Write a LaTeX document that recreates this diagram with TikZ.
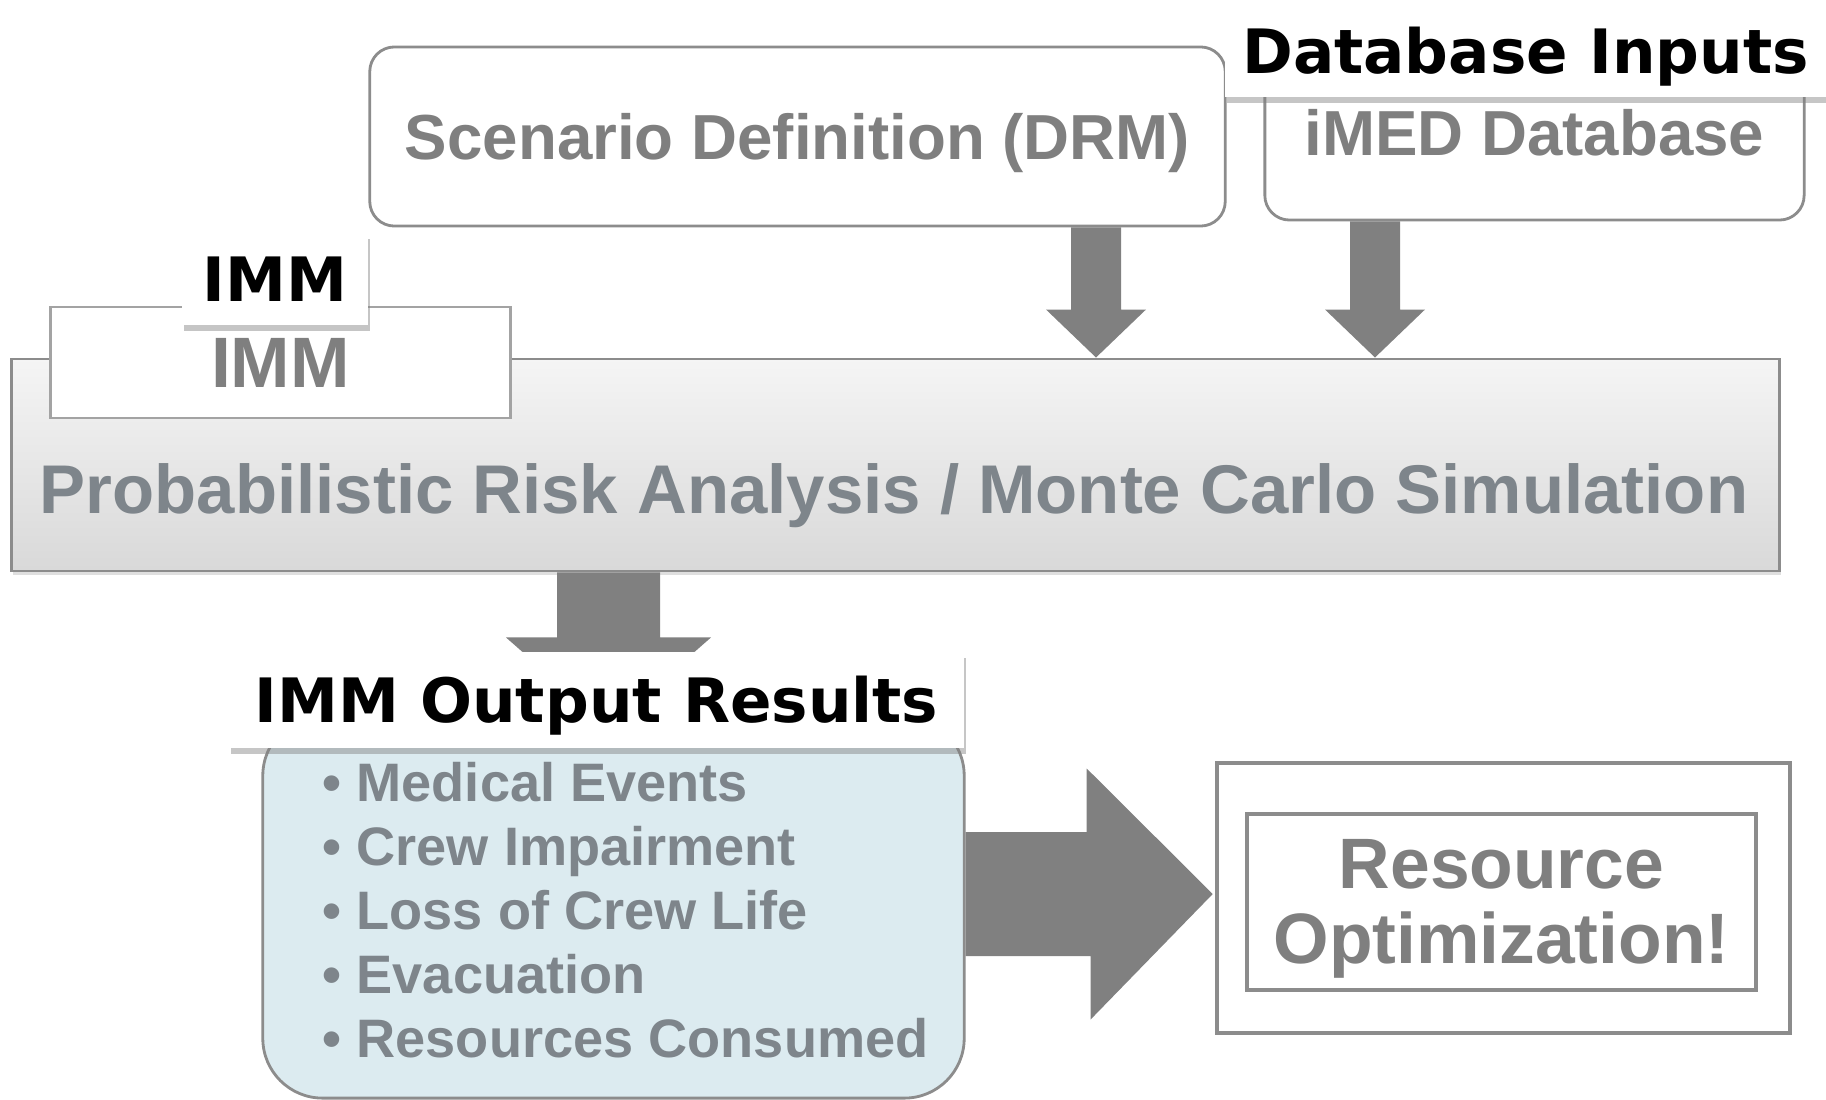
\documentclass[tikz,border=0pt]{standalone}
\usepackage{fontspec}
\setmainfont{Liberation Sans}
\newfontfamily\labfont{DejaVu Sans}
\usetikzlibrary{calc, shadows}
\definecolor{txtgray}{HTML}{7F7F7F}
\definecolor{bluegray}{HTML}{7E858B}
\definecolor{edgegray}{HTML}{8C8C8C}
\definecolor{fatgray}{HTML}{808080}
\definecolor{paleblue}{HTML}{DCEBF0}
\tikzset{caps/.style={text height=#1, text depth=0pt}}
\tikzset{box/.style={draw=edgegray, line width=0.8pt, inner sep=0pt, text=txtgray, font=\fontsize{18.1}{20}\selectfont\bfseries}}
\tikzset{roundbox/.style={box, caps=13pt, rounded corners=7pt, fill=white}}
\tikzset{lab/.style={fill=white, inner sep=0pt, font=\labfont\fontsize{17.4}{20}\selectfont\bfseries, caps=12.7pt,
  drop shadow={shadow xshift=0.6pt, shadow yshift=-1.6pt, opacity=0.45}}}
\tikzset{fat/.style={fill=fatgray}}
\tikzset{item/.style={anchor=base west, inner sep=0pt, text=bluegray, font=\fontsize{15.4}{18}\selectfont\bfseries}}

\begin{document}
\begin{tikzpicture}[x=0.01cm, y=-0.01cm]
        \useasboundingbox (0,0) rectangle (1826,1100);
        % Inputs
        \node[roundbox, minimum width=8.55cm, minimum height=1.79cm] (scen) at (797.5,136.5) {Scenario Definition (DRM)};
        \node[roundbox, minimum width=5.39cm, minimum height=1.74cm] (imed) at (1534.5,133) {iMED Database};
        \node[lab, minimum width=6.01cm, minimum height=0.91cm] (dbin) at (1525.5,51.5) {Database Inputs};
        % Simulation block
        \node[box, minimum width=17.67cm, minimum height=2.12cm, top color=white!96!black, bottom color=white!85!black,
          drop shadow={shadow xshift=0.5pt, shadow yshift=-1pt, opacity=0.25}] (pra) at (895.5,465) {};
        \node[caps=14pt, text=bluegray, font=\fontsize{19.6}{22}\selectfont\bfseries] (pratxt) at (894,489) {Probabilistic Risk Analysis / Monte Carlo Simulation};
        \node[box, caps=14.5pt, fill=white, draw=edgegray!80, minimum width=4.59cm, minimum height=1.11cm,
          font=\fontsize{20.3}{22}\selectfont\bfseries] (imm) at (280.5,362.5) {IMM};
        \node[lab, minimum width=1.86cm, minimum height=0.92cm] (immlab) at (275,279) {IMM};
        % Input arrows
        \foreach \src/\cx in {scen/1096, imed/1375} {
          \coordinate (mid) at (\cx,0);
          \fill[fat] ($(\src.south -| mid)+(-25,0)$) |- ($(pra.north -| mid)+(-50,-48)$) -- (pra.north -| mid)
            -- ++(50,-48) -- ++(-25,0) |- ($(\src.south -| mid)+(25,0)$) -- cycle;
        }
        % Output arrow, its tip hides under the label
        \coordinate (mid) at (608.5,0);
        \fill[fat] ($(pra.south -| mid)+(-51.5,0)$) -- ++(0,65) -- ++(-51,0) -- ++(102.5,90) -- ++(102.5,-90)
          -- ++(-51,0) |- ($(pra.south -| mid)+(51.5,0)$) -- cycle;
        % Results
        \node[box, fill=paleblue, rounded corners=17pt, minimum width=7.01cm, minimum height=3.82cm] (res) at (613.5,907) {};
        \foreach \txt [count=\i from 0] in {Medical Events, Crew Impairment, Loss of Crew Life, Evacuation, Resources Consumed} {
          \node[item] (item\i) at (322,801+64*\i) {• \txt};
        }
        \node[lab, minimum width=7.35cm, minimum height=0.96cm] (reslab) at (596.5,700) {IMM Output Results};
        % Optimization
        \node[box, line width=1.2pt, minimum width=5.73cm, minimum height=2.70cm] (opt) at (1503.5,898) {};
        \node[box, line width=1.2pt, minimum width=5.09cm, minimum height=1.76cm] (optin) at (1501.5,902) {};
        \node[align=center, inner sep=0pt, text=txtgray, font=\fontsize{20.3}{21.2}\selectfont\bfseries] (opttxt)
          at (1501.5,909) {Resource\\Optimization!};
        \coordinate (tip) at ($(opt.west)+(-2,-4)$);
        \fill[fat] (tip) -- ++(-126,-125.5) -- ++(0,63.5) -- ($(res.east |- tip)+(0,-62)$)
          -- ($(res.east |- tip)+(0,62)$) -- ++(125,0) -- ++(0,63.5) -- cycle;
\end{tikzpicture}
\end{document}
